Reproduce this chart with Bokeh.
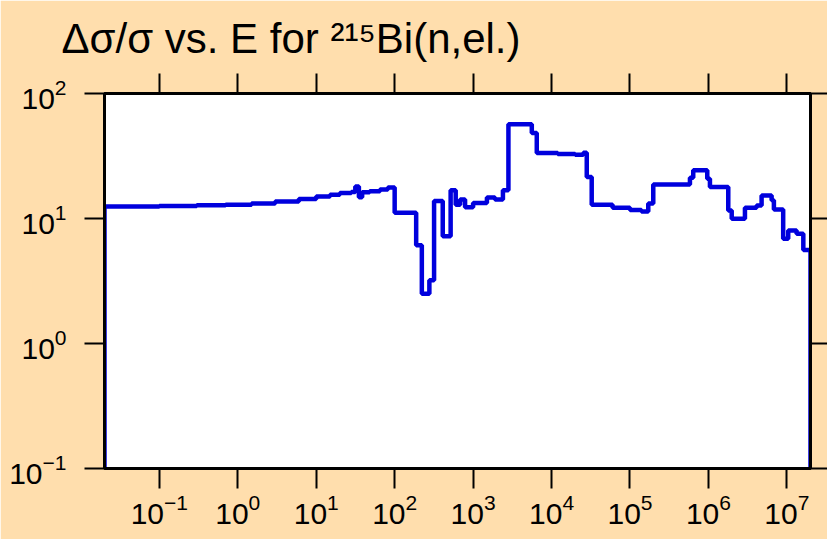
from bokeh.plotting import figure
from bokeh.models import LogAxis, Range1d, FixedTicker
from bokeh.embed import file_html
from bokeh.resources import INLINE

# ---- data: bin edges (eV) and relative uncertainty (%) per bin ----
e_edges = [0.02, 0.1, 0.3, 0.7, 1.5, 3.0, 6.0, 10, 15, 20,
           28, 31.5, 35, 38.5, 48, 65, 82, 100, 188, 222,
           277, 318, 410, 517, 600, 683, 790, 1000, 1500, 1900,
           2400, 2820, 5600, 6480, 12000, 20000, 25400, 28100, 32500, 60000,
           1.0e5, 1.4e5, 1.71e5, 1.98e5, 5.81e5, 6.4e5, 9.66e5, 1.045e6, 1.79e6, 1.98e6,
           2.92e6, 4.11e6, 4.76e6, 6.39e6, 6.83e6, 8.97e6, 1.04e7, 1.33e7, 1.62e7, 2.0e7]
sigma = [12.5, 12.6, 12.75, 12.9, 13.2, 13.7, 14.3, 15.0, 15.5, 16.0,
         16.3, 18.0, 14.8, 16.2, 16.5, 17.1, 17.7, 11.1, 6.1, 2.5,
         3.2, 13.8, 7.2, 16.8, 12.9, 14.2, 12.3, 13.3, 14.7, 14.2,
         16.8, 56.8, 48.3, 33.4, 32.8, 32.3, 33.6, 21.5, 12.9, 12.2,
         11.7, 11.4, 13.2, 18.7, 21.2, 24.3, 20.8, 17.9, 11.6, 9.95,
         12.2, 12.7, 15.3, 14.0, 11.8, 6.9, 8.0, 7.55, 5.6]
floor_value = 1e-3  # histogram drops to zero outside the energy range

x_ticks = [1e-1, 1e0, 1e1, 1e2, 1e3, 1e4, 1e5, 1e6, 1e7]
y_ticks = [1e-1, 1e0, 1e1, 1e2]
x_limits = (0.02, 2.0e7)
y_limits = (0.1, 100)

title_text = "\u0394\u03c3/\u03c3 vs. E for \u00b2\u00b9\u2075Bi(n,el.)"

# ---- histogram path from the data ----
xs = [e_edges[0]]
ys = [floor_value]
for i, v in enumerate(sigma):
    xs += [e_edges[i], e_edges[i + 1]]
    ys += [v, v]
xs.append(e_edges[-1])
ys.append(floor_value)

BG = "#FFDEAD"
TICK_FONT = "Liberation Sans"

p = figure(width=827, height=539, x_axis_type="log", y_axis_type="log",
           x_range=Range1d(*x_limits), y_range=Range1d(*y_limits),
           output_backend="svg", toolbar_location=None,
           min_border_left=104, min_border_right=17, min_border_top=93,
           min_border_bottom=71,
           background_fill_color="white", border_fill_color=BG)
p.grid.visible = False
p.outline_line_color = "black"
p.outline_line_width = 3

p.title.text = title_text
p.title.text_font = "Liberation Sans"
p.title.text_font_size = "42px"
p.title.text_font_style = "normal"
p.title.text_color = "black"
p.title.align = "left"
p.title.offset = -43
p.title.standoff = 23

p.line(xs, ys, line_color="#0000DD", line_width=4.5)

bottom_axis = p.below[0]
left_axis = p.left[0]
top_axis = LogAxis()
right_axis = LogAxis()
p.add_layout(top_axis, "above")
p.add_layout(right_axis, "right")

for ax in [bottom_axis, top_axis]:
    ax.ticker = FixedTicker(ticks=x_ticks)
for ax in [left_axis, right_axis]:
    ax.ticker = FixedTicker(ticks=y_ticks)

for ax in [bottom_axis, left_axis, top_axis, right_axis]:
    ax.axis_line_width = 3
    ax.axis_line_color = "black"
    ax.major_tick_line_width = 2
    ax.major_tick_line_color = "black"
    ax.major_tick_out = 20
    ax.major_tick_in = 0
    ax.minor_tick_line_color = None
    ax.major_label_text_font = TICK_FONT
    ax.major_label_text_font_size = "30px"
    ax.major_label_text_color = "black"

bottom_axis.major_label_standoff = 5
left_axis.major_label_standoff = 18
for ax in [top_axis, right_axis]:
    ax.major_label_text_font_size = "0px"
    ax.major_label_text_color = None
    ax.major_label_standoff = 0
right_axis.major_tick_out = 17

open("out.html", "w").write(file_html(p, INLINE))
